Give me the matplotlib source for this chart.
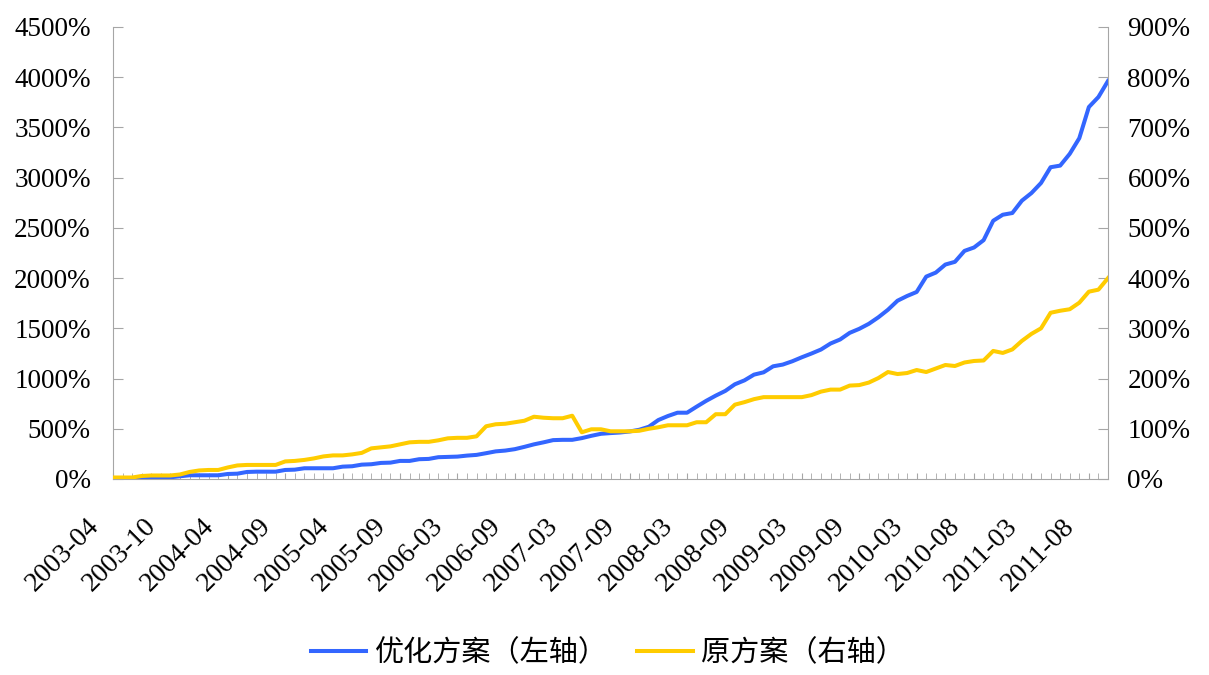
import matplotlib
matplotlib.use('Agg')
from matplotlib import pyplot as plt
from matplotlib.transforms import ScaledTranslation
from matplotlib.ticker import FuncFormatter
import numpy as np

# cumulative return (%)
optimized = [0, 0, 0, 13, 17, 17, 17, 27, 37, 37, 37, 37, 50, 53, 70, 73, 73, 73, 90, 93,
             107, 107, 107, 107, 123, 127, 143, 147, 160, 163, 180, 180, 197, 200, 217, 220, 223, 233, 240, 257,
             275, 283, 297, 320, 345, 365, 387, 390, 390, 407, 430, 450, 457, 463, 473, 490, 520, 587, 627, 660,
             660, 720, 778, 830, 877, 943, 982, 1039, 1062, 1122, 1139, 1172, 1212, 1249, 1289, 1349, 1389, 1455, 1495, 1545,
             1610, 1685, 1775, 1822, 1862, 2015, 2055, 2135, 2162, 2271, 2305, 2378, 2571, 2631, 2648, 2771, 2847, 2947, 3104, 3120,
             3237, 3393, 3703, 3803, 3963]
original = [3, 3, 3, 6, 7, 7, 7, 9, 14, 17, 18, 18, 23, 27, 28, 28, 28, 28, 35, 36,
            38, 41, 45, 47, 47, 49, 52, 61, 63, 65, 69, 73, 74, 74, 77, 81, 82, 82, 85, 105,
            109, 110, 113, 116, 124, 122, 121, 121, 126, 93, 99, 99, 95, 95, 95, 96, 100, 103, 107, 107,
            107, 113, 113, 129, 129, 148, 153, 159, 163, 163, 163, 163, 163, 167, 174, 178, 178, 186, 187, 192,
            201, 213, 209, 211, 217, 213, 220, 227, 225, 232, 235, 236, 255, 251, 258, 275, 289, 300, 331, 335,
            338, 351, 373, 377, 400]
tick_labels = ['2003-04', '2003-10', '2004-04', '2004-09', '2005-04', '2005-09', '2006-03', '2006-09',
               '2007-03', '2007-09', '2008-03', '2008-09', '2009-03', '2009-09', '2010-03', '2010-08',
               '2011-03', '2011-08']
series_names = ['优化方案（左轴）', '原方案（右轴）']

plt.rcParams['font.family'] = ['Liberation Serif', 'DejaVu Serif']
gray = '#a6a6a6'

fig = plt.figure(figsize=(12.09, 6.75), dpi=100)
ax = fig.add_axes([113 / 1209, 1 - 479 / 675, (1108 - 113) / 1209, (479 - 27) / 675])
ax2 = ax.twinx()

x = np.arange(len(optimized))
l1, = ax.plot(x, optimized, color='#3366ff', lw=2.9, label=series_names[0])
l2, = ax2.plot(x, original, color='#ffcc00', lw=2.9, label=series_names[1])

ax.set_xlim(0, len(x) - 1)
ax.set_ylim(0, 4500)
ax2.set_ylim(0, 900)
ax.set_yticks(range(0, 4501, 500))
ax2.set_yticks(range(0, 901, 100))
pct = FuncFormatter(lambda v, p: '%d%%' % v)
ax.yaxis.set_major_formatter(pct)
ax2.yaxis.set_major_formatter(pct)

ax.set_xticks(x[::6][:len(tick_labels)])
ax.set_xticklabels(tick_labels, rotation=45, ha='right', va='top')
ax.set_xticks(x, minor=True)

for a in (ax, ax2):
    a.spines['top'].set_visible(False)
    for s in a.spines.values():
        s.set_color(gray)
ax2.spines['left'].set_visible(False)
ax2.spines['bottom'].set_visible(False)
ax.spines['right'].set_visible(False)

ax.tick_params(axis='y', direction='in', length=7, color=gray, pad=16, labelsize=19.5)
ax2.tick_params(axis='y', direction='in', length=7, color=gray, pad=14, labelsize=19.5)
ax.tick_params(axis='x', which='both', direction='in', length=4, color=gray, pad=25, labelsize=20)

for lab in ax.get_xticklabels():
    lab.set_transform(lab.get_transform() + ScaledTranslation(-0.09, 0, fig.dpi_scale_trans))

fig.legend(handles=[l1, l2], loc='center', bbox_to_anchor=(0.503, 1 - 653 / 675), ncol=2,
           frameon=False, prop={'family': ['Noto Sans CJK SC'], 'size': 21},
           handlelength=1.9, handletextpad=0.3, columnspacing=1.0)

fig.savefig('out.png', dpi=100)
